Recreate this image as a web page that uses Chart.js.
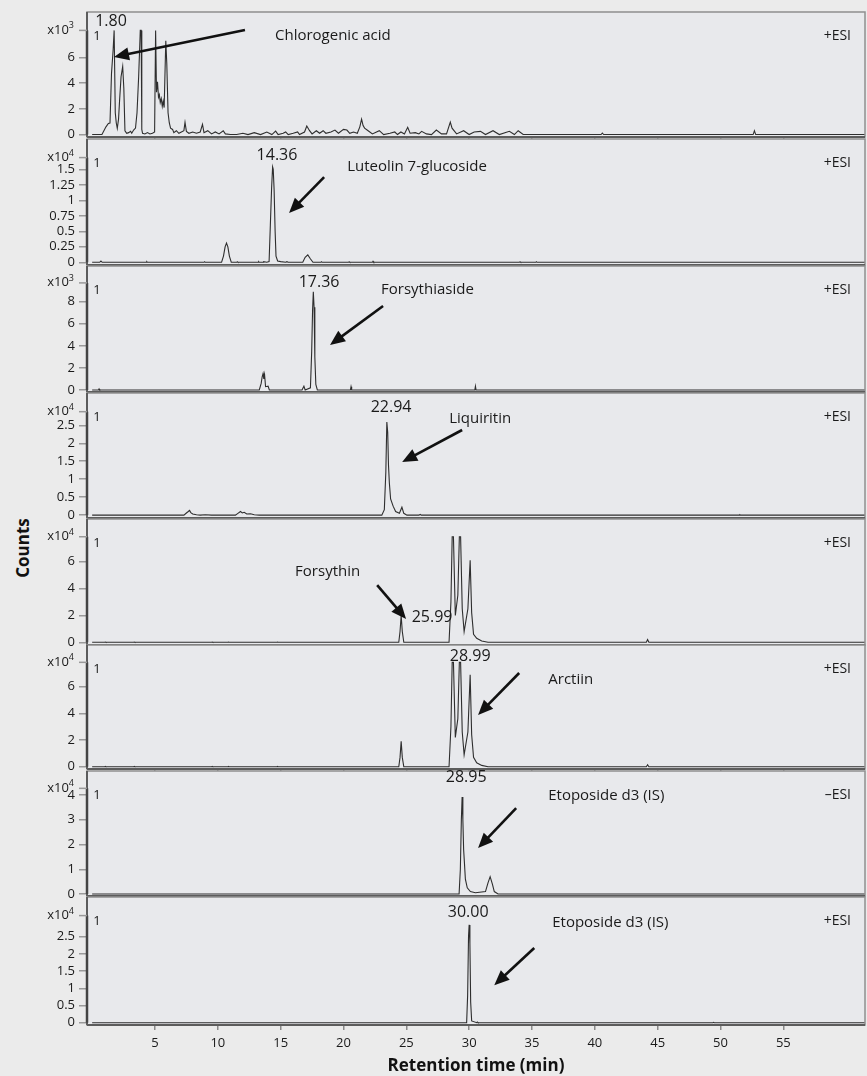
<!DOCTYPE html>
<html>
<head>
<meta charset="utf-8">
<script src="https://cdn.jsdelivr.net/npm/chart.js@4.4.0/dist/chart.umd.min.js"></script>
<style>
  html, body { margin: 0; padding: 0; background: #ebebeb; }
  #wrap { position: relative; width: 867px; height: 1076px; overflow: hidden; font-family: "Open Sans", sans-serif; }
  #wrap canvas { position: absolute; left: 0; }
  #counts { position: absolute; left: 22px; top: 548px; transform: translate(-50%, -50%) rotate(-90deg);
            font-weight: bold; font-size: 17px; color: #111; white-space: nowrap; }
</style>
</head>
<body>
<div id="wrap"><div id="counts">Counts</div></div>
<script>
// Retention times (min) and counts for each trace
const times1 = [0,0.78,1.1,1.29,1.42,1.54,1.67,1.75,1.8,1.84,
  1.92,2.0,2.1,2.18,2.3,2.43,2.52,2.61,2.75,2.9,
  3.06,3.15,3.3,3.45,3.57,3.7,3.83,3.9,3.95,4.01,
  4.2,4.4,4.6,4.8,4.97,5.05,5.12,5.2,5.28,5.35,
  5.42,5.5,5.58,5.65,5.73,5.86,5.94,6.04,6.14,6.24,
  6.4,6.5,6.7,6.9,7.1,7.3,7.39,7.5,7.7,8.0,
  8.3,8.6,8.78,8.9,9.2,9.5,9.8,10.1,10.43,10.6,
  11.0,11.5,12.0,12.4,12.9,13.4,13.9,14.3,14.6,14.8,
  15.2,15.4,15.6,16.0,16.35,16.5,16.9,17.08,17.3,17.5,
  17.84,18.1,18.38,18.6,19.0,19.32,19.6,20.0,20.27,20.5,
  20.8,21.1,21.3,21.44,21.56,21.68,21.96,22.3,22.85,23.2,
  23.7,24.08,24.3,24.57,24.85,25.11,25.3,25.72,26.0,26.22,
  26.6,27.0,27.39,27.8,28.2,28.5,28.64,29.0,29.56,30.0,
  30.4,30.9,31.3,31.9,32.4,33.2,33.6,33.9,34.3,40.5,
  40.6,40.7,52.6,52.7,52.8,61.5];
const counts1 = [0,0,0.6,0.87,0.9,4.76,6.6,8.1,8.1,1.7,
  0.9,0.48,1.2,2.6,4.5,5.3,3.6,0.3,0.1,0.15,
  0.25,0.1,0.35,0.5,1.7,4.5,8.1,8.1,0.4,0.1,
  0.05,0.15,0.05,0.1,0.2,8.1,3.3,4.1,2.9,3.1,
  2.5,2.8,2.2,2.6,2.1,7.3,5.5,1.7,0.9,0.5,
  0.4,0.15,0.3,0.1,0.2,0.3,0.95,0.25,0.1,0.2,
  0.1,0.2,0.8,0.15,0.3,0.05,0.2,0.05,0.3,0.05,
  0,0,0.1,0,0.15,0,0.2,0,0.27,0,
  0.1,0.2,0,0.1,0.2,0,0.2,0.66,0.3,0.05,
  0.3,0.1,0.3,0.1,0.2,0.35,0.1,0.4,0.35,0.1,
  0.2,0.1,0.6,1.2,0.7,0.5,0.3,0.05,0.3,0,
  0.1,0.2,0,0.2,0.05,0.56,0.1,0.15,0.05,0.25,
  0.05,0,0.35,0.05,0.05,0.97,0.5,0.05,0.3,0,
  0.2,0.25,0,0.3,0,0.25,0,0.3,0,0,
  0.12,0,0,0.3,0,0];

const times2 = [0,0.6,0.7,0.8,4.3,4.35,4.4,8.9,8.95,9.0,
  10.3,10.45,10.58,10.69,10.8,10.92,11.07,11.5,11.55,11.6,
  13.2,13.25,13.3,13.6,13.65,13.9,14.08,14.18,14.28,14.36,
  14.41,14.48,14.56,14.63,14.76,15.0,15.4,15.5,15.6,16.76,
  16.95,17.16,17.35,17.57,18.2,18.25,18.3,20.4,20.45,20.5,
  22.3,22.35,22.4,34,34.05,34.1,35.3,35.35,35.4,61.5];
const counts2 = [0,0,0.02,0,0,0.01,0,0,0.01,0,
  0,0.1,0.25,0.31,0.25,0.1,0,0,0.01,0,
  0,0.01,0,0,0.01,0,0.01,0.6,1.2,1.54,
  1.5,1.17,0.5,0.1,0.02,0.01,0,0.01,0,0,
  0.08,0.12,0.06,0,0,0.01,0,0,0.01,0,
  0,0.015,0,0,0.01,0,0,0.01,0,0];

const times3 = [0,0.5,0.55,0.6,13.3,13.45,13.53,13.6,13.66,13.72,
  13.8,14.0,14.1,16.7,16.85,16.95,17.37,17.47,17.54,17.6,
  17.66,17.72,17.8,17.92,20.55,20.6,20.65,30.45,30.5,30.55,
  61.5];
const counts3 = [0,0,0.1,0,0,0.6,1.2,1.5,1.0,1.4,
  0.3,0.35,0,0,0.35,0,0.2,3.5,7.2,8.9,
  7.5,3.0,0.5,0,0,0.3,0,0,0.35,0,
  0];

const times4 = [0,7.3,7.5,7.65,7.75,7.85,8.0,8.3,8.6,9.0,
  9.5,11.4,11.6,11.8,11.95,12.1,12.3,12.6,12.9,13.3,
  23.05,23.25,23.37,23.45,23.52,23.58,23.65,23.75,23.95,24.15,
  24.45,24.65,24.8,25.05,26.0,26.1,26.2,51.5,51.55,51.6,
  61.5];
const counts4 = [0,0,0.06,0.1,0.13,0.07,0.03,0.01,0,0.01,
  0,0,0.05,0.1,0.06,0.08,0.03,0.04,0.01,0,
  0,0.15,1.2,2.59,2.3,1.4,0.9,0.45,0.25,0.1,
  0.05,0.22,0.05,0,0,0.02,0,0,0.01,0,
  0];

const times5 = [0,1.0,1.05,1.1,3.3,3.35,3.4,9.5,9.55,9.6,
  10.8,10.85,10.9,14.7,14.75,14.8,24.4,24.5,24.59,24.68,
  24.8,28.4,28.55,28.65,28.75,28.9,29.1,29.22,29.32,29.45,
  29.6,29.9,30.08,30.2,30.35,30.6,31.0,31.5,44.1,44.2,
  44.3,61.5];
const counts5 = [0,0,0.02,0,0,0.02,0,0,0.02,0,
  0,0.02,0,0,0.02,0,0,0.8,2.0,0.8,
  0,0,3.0,7.86,7.86,2.0,3.5,7.86,7.86,2.5,
  0.8,2.5,6.1,2.2,0.6,0.3,0.1,0,0,0.2,
  0,0];

const times6 = [0,1.0,1.05,1.1,3.3,3.35,3.4,9.5,9.55,9.6,
  10.8,10.85,10.9,14.7,14.75,14.8,24.4,24.5,24.59,24.68,
  24.8,28.4,28.55,28.65,28.75,28.9,29.1,29.22,29.32,29.45,
  29.6,29.9,30.08,30.2,30.35,30.6,31.0,31.5,44.1,44.2,
  44.3,61.5];
const counts6 = [0,0,0.02,0,0,0.02,0,0,0.02,0,
  0,0.02,0,0,0.02,0,0,0.7,1.9,0.7,
  0,0,3.0,7.83,7.83,2.2,3.6,7.83,7.83,2.6,
  0.9,2.6,6.9,2.4,0.7,0.3,0.1,0,0,0.15,
  0,0];

const times7 = [0,29.2,29.3,29.38,29.44,29.5,29.56,29.62,29.7,29.85,
  30.1,30.5,31.3,31.5,31.67,31.85,32.0,32.3,61.5];
const counts7 = [0,0,1.0,3.0,3.92,3.0,1.8,1.3,0.6,0.25,
  0.1,0.05,0.1,0.45,0.7,0.4,0.1,0,0];

const times8 = [0,29.8,29.88,29.95,30.0,30.06,30.12,30.2,30.6,30.65,
  30.7,49.4,49.45,49.5,61.5];
const counts8 = [0,0,0.8,2.5,2.84,2.3,0.6,0.05,0,0.02,
  0,0,0.01,0,0];

// axis ticks and labels
const xTicks = [5, 10, 15, 20, 25, 30, 35, 40, 45, 50, 55];
const yTicks = [
  [0, 2, 4, 6],
  [0, 0.25, 0.5, 0.75, 1, 1.25, 1.5],
  [0, 2, 4, 6, 8],
  [0, 0.5, 1, 1.5, 2, 2.5],
  [0, 2, 4, 6],
  [0, 2, 4, 6],
  [0, 1, 2, 3, 4],
  [0, 0.5, 1, 1.5, 2, 2.5]
];
const axisTop = [8.1, 1.69, 9.7, 2.88, 7.86, 7.83, 4.27, 3.11];   // top of each count axis
const exponents = [3, 4, 3, 4, 4, 4, 4, 4];
const modes = ['+ESI', '+ESI', '+ESI', '+ESI', '+ESI', '+ESI', '\u2013ESI', '+ESI'];
const peakLabels = ['1.80', '14.36', '17.36', '22.94', '25.99', '28.99', '28.95', '30.00'];
const compounds = ['Chlorogenic acid', 'Luteolin 7-glucoside', 'Forsythiaside', 'Liquiritin',
                   'Forsythin', 'Arctiin', 'Etoposide d3 (IS)', 'Etoposide d3 (IS)'];

const traces = [
  [times1, counts1], [times2, counts2], [times3, counts3], [times4, counts4],
  [times5, counts5], [times6, counts6], [times7, counts7], [times8, counts8]
];

// layout: panel placement and value ranges
const panelTop = [12, 139, 266, 393, 519, 645, 771, 897];
const panelHeight = [125, 126, 126, 125, 126, 124, 125, 128];
const yMin = [-0.19, -0.044, -0.18, -0.08, -0.2, -0.17, -0.08, -0.067];
const yMax = [9.53, 1.99, 11.23, 3.40, 9.18, 9.13, 4.97, 3.65];
const xMin = -0.41, xMax = 61.5;

// annotation anchors in data units (time, count)
const notes = [
  { peak: [1.50, 8.83], name: [14.55, 7.67], arrow: [12.16, 8.13, 1.74, 6.03] },
  { peak: [14.71, 1.73], name: [20.29, 1.55], arrow: [18.46, 1.376, 15.67, 0.795] },
  { peak: [18.06, 9.78], name: [22.99, 9.06], arrow: [23.15, 7.61, 18.93, 4.08] },
  { peak: [23.79, 3.01], name: [28.41, 2.67], arrow: [29.44, 2.37, 24.67, 1.48] },
  { peak: [27.05, 1.88], name: [16.15, 5.23], arrow: [22.68, 4.26, 24.98, 1.73] },
  { peak: [30.08, 8.3], name: [36.3, 6.5], arrow: [33.98, 7.03, 30.71, 3.88] },
  { peak: [29.76, 4.69], name: [36.29, 3.96], arrow: [33.74, 3.47, 30.71, 1.86] },
  { peak: [29.92, 3.19], name: [36.61, 2.91], arrow: [35.18, 2.17, 32.0, 1.09] }
];

Chart.defaults.font.family = '"Open Sans", "Noto Sans", sans-serif';
Chart.defaults.color = '#1a1a1a';

const FONT = '"Open Sans", "Noto Sans", sans-serif';

function drawArrow(ctx, x1, y1, x2, y2) {
  const a = Math.atan2(y2 - y1, x2 - x1);
  const L = 15, W = 6.5;
  ctx.strokeStyle = '#111';
  ctx.fillStyle = '#111';
  ctx.lineWidth = 2.6;
  ctx.beginPath();
  ctx.moveTo(x1, y1);
  ctx.lineTo(x2 - Math.cos(a) * L * 0.8, y2 - Math.sin(a) * L * 0.8);
  ctx.stroke();
  ctx.beginPath();
  ctx.moveTo(x2, y2);
  ctx.lineTo(x2 - L * Math.cos(a) + W * Math.sin(a), y2 - L * Math.sin(a) - W * Math.cos(a));
  ctx.lineTo(x2 - L * Math.cos(a) - W * Math.sin(a), y2 - L * Math.sin(a) + W * Math.cos(a));
  ctx.closePath();
  ctx.fill();
}

const panelDeco = {
  id: 'panelDeco',
  beforeDraw(chart) {
    const { ctx, chartArea: a } = chart;
    ctx.save();
    ctx.fillStyle = '#e8e9ec';
    ctx.fillRect(a.left, a.top, a.right - a.left, a.bottom - a.top);
    ctx.restore();
  },
  afterDraw(chart, args, opts) {
    const i = opts.panel;
    const { ctx, chartArea: a } = chart;
    const xs = chart.scales.x, ys = chart.scales.y;
    ctx.save();

    // frame
    ctx.strokeStyle = '#8f8f8f';
    ctx.lineWidth = 1.5;
    ctx.strokeRect(a.left, a.top, a.right - a.left, a.bottom - a.top);
    ctx.strokeStyle = '#5c5c5c';
    ctx.lineWidth = 2;
    ctx.beginPath();
    ctx.moveTo(a.left, a.top); ctx.lineTo(a.left, a.bottom);
    ctx.moveTo(a.left, a.bottom); ctx.lineTo(a.right, a.bottom);
    ctx.stroke();

    // count axis line up to its top tick
    const yTop = ys.getPixelForValue(axisTop[i]);
    ctx.strokeStyle = '#444';
    ctx.lineWidth = 2.5;
    ctx.beginPath();
    ctx.moveTo(a.left, yTop); ctx.lineTo(a.left, ys.getPixelForValue(0));
    ctx.stroke();
    ctx.strokeStyle = '#999';
    ctx.lineWidth = 1.5;
    ctx.beginPath();
    ctx.moveTo(a.left - 8, yTop); ctx.lineTo(a.left, yTop);
    ctx.stroke();

    // x10^n label
    ctx.fillStyle = '#1a1a1a';
    ctx.textBaseline = 'alphabetic';
    ctx.font = '9px ' + FONT;
    const sup = String(exponents[i]);
    const supW = ctx.measureText(sup).width;
    const right = a.left - 13;
    ctx.textAlign = 'right';
    ctx.fillText(sup, right, yTop - 2);
    ctx.font = '13px ' + FONT;
    ctx.fillText('x10', right - supW, yTop + 3.5);

    // "1" and ionisation mode
    ctx.textBaseline = 'middle';
    ctx.textAlign = 'center';
    ctx.font = '13px ' + FONT;
    ctx.fillText('1', a.left + 10, a.top + 24);
    ctx.textAlign = 'right';
    ctx.font = '14px ' + FONT;
    ctx.fillText(modes[i], a.right - 14, a.top + 24);

    // peak label, compound name and arrow
    const n = notes[i];
    ctx.font = '16px ' + FONT;
    ctx.textAlign = 'center';
    ctx.fillText(peakLabels[i], xs.getPixelForValue(n.peak[0]), ys.getPixelForValue(n.peak[1]));
    ctx.font = '15px ' + FONT;
    ctx.textAlign = 'left';
    ctx.fillText(compounds[i], xs.getPixelForValue(n.name[0]), ys.getPixelForValue(n.name[1]));
    drawArrow(ctx,
      xs.getPixelForValue(n.arrow[0]), ys.getPixelForValue(n.arrow[1]),
      xs.getPixelForValue(n.arrow[2]), ys.getPixelForValue(n.arrow[3]));
    ctx.restore();
  }
};

const wrap = document.getElementById('wrap');

traces.forEach(([times, counts], i) => {
  const last = i === traces.length - 1;
  const xh = last ? 51 : 8;
  const canvas = document.createElement('canvas');
  const h = 1 + panelHeight[i] + xh;
  canvas.width = 867;
  canvas.height = h;
  canvas.style.width = '867px';
  canvas.style.height = h + 'px';
  canvas.style.top = (panelTop[i] - 1) + 'px';
  wrap.appendChild(canvas);

  new Chart(canvas, {
    type: 'line',
    data: {
      datasets: [{
        data: times.map((t, k) => ({ x: t, y: counts[k] })),
        borderColor: '#2e2e2e',
        borderWidth: 1.1,
        pointRadius: 0,
        tension: 0,
        fill: false
      }]
    },
    options: {
      responsive: false,
      animation: false,
      events: [],
      layout: { padding: { top: 1, left: 0, right: 2, bottom: 0 } },
      scales: {
        x: {
          type: 'linear',
          min: xMin,
          max: xMax,
          afterBuildTicks: s => { s.ticks = xTicks.map(v => ({ value: v })); },
          afterFit: s => { s.height = xh; s.paddingLeft = 0; s.paddingRight = 0; },
          grid: { drawOnChartArea: false, drawTicks: true, tickLength: 5, color: '#8a8a8a', lineWidth: 1.5 },
          border: { display: false },
          ticks: { display: last, padding: 5, font: { size: 13 }, color: '#1a1a1a', maxRotation: 0 },
          title: {
            display: last,
            text: 'Retention time (min)',
            font: { size: 17, weight: 'bold' },
            color: '#111',
            padding: { top: 0, bottom: 0 }
          }
        },
        y: {
          min: yMin[i],
          max: yMax[i],
          afterBuildTicks: s => { s.ticks = yTicks[i].map(v => ({ value: v })); },
          afterFit: s => { s.width = 87; s.paddingTop = 0; s.paddingBottom = 0; },
          grid: { drawOnChartArea: false, drawTicks: true, tickLength: 8, color: '#9a9a9a', lineWidth: 1.5 },
          border: { display: false },
          ticks: { padding: 4, font: { size: 13 }, color: '#1a1a1a', callback: v => String(v) }
        }
      },
      plugins: {
        legend: { display: false },
        tooltip: { enabled: false },
        panelDeco: { panel: i }
      }
    },
    plugins: [panelDeco]
  });
});
</script>
</body>
</html>
